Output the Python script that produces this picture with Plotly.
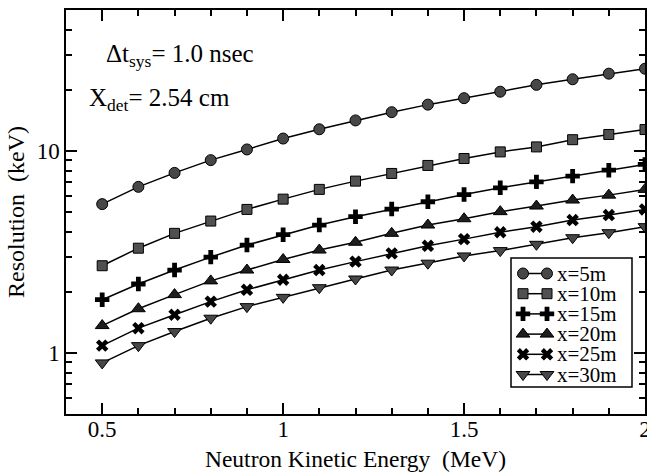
import plotly.graph_objects as go

energy = [0.5, 0.6, 0.7, 0.8, 0.9, 1.0, 1.1, 1.2, 1.3, 1.4, 1.5, 1.6, 1.7, 1.8, 1.9, 2.0]

res_5m = [5.47, 6.66, 7.81, 9.03, 10.2, 11.55, 12.84, 14.2, 15.6, 17.0, 18.3, 19.7, 21.3, 22.7, 24.2, 25.6]
res_10m = [2.71, 3.31, 3.92, 4.51, 5.15, 5.79, 6.47, 7.11, 7.76, 8.50, 9.20, 9.92, 10.5, 11.4, 12.1, 12.8]
res_15m = [1.84, 2.20, 2.58, 2.99, 3.43, 3.86, 4.31, 4.74, 5.17, 5.62, 6.10, 6.59, 7.05, 7.53, 8.05, 8.60]
res_20m = [1.37, 1.66, 1.95, 2.28, 2.58, 2.91, 3.24, 3.54, 3.92, 4.31, 4.63, 5.02, 5.35, 5.73, 6.06, 6.47]
res_25m = [1.09, 1.33, 1.55, 1.80, 2.06, 2.31, 2.58, 2.84, 3.12, 3.40, 3.67, 3.97, 4.23, 4.56, 4.83, 5.15]
res_30m = [0.895, 1.09, 1.28, 1.49, 1.70, 1.89, 2.11, 2.33, 2.58, 2.79, 3.03, 3.22, 3.46, 3.73, 3.95, 4.23]

series_names = ["x=5m", "x=10m", "x=15m", "x=20m", "x=25m", "x=30m"]
series_values = [res_5m, res_10m, res_15m, res_20m, res_25m, res_30m]

x_ticks = [0.5, 1, 1.5, 2]
x_tick_labels = ["0.5", "1", "1.5", "2"]
y_ticks = [1, 10]
y_tick_labels = ["1", "10"]

styles = [
    dict(symbol="circle", size=11, color="#474747", line=dict(color="black", width=1)),
    dict(symbol="square", size=10, color="#505050", line=dict(color="black", width=1)),
    dict(symbol="cross", size=12, color="black", line=dict(color="black", width=0)),
    dict(symbol="triangle-up", size=12, color="#1e1e1e", line=dict(color="black", width=1)),
    dict(symbol="x", size=11, color="black", line=dict(color="black", width=0)),
    dict(symbol="triangle-down", size=12, color="#474747", line=dict(color="black", width=1)),
]

FONT = "Liberation Serif"
W, H = 647, 475
L, R, T, B = 66, 2, 10, 61

fig = go.Figure()
for name, vals, st in zip(series_names, series_values, styles):
    fig.add_trace(go.Scatter(
        x=energy, y=vals, mode="lines+markers", name=name,
        line=dict(color="black", width=1.5),
        marker=st, showlegend=False, cliponaxis=False,
    ))

# custom legend drawn on a pixel-coordinate overlay axis
leg_left, leg_right, leg_top, leg_bot = 511, 632, 258, 387
row_y0, row_dy = 273.5, 20.2
key_x = [523, 547]
text_x = 556
for i, (name, st) in enumerate(zip(series_names, styles)):
    yy = row_y0 + i * row_dy
    fig.add_trace(go.Scatter(
        x=key_x, y=[yy, yy], xaxis="x2", yaxis="y2", mode="lines+markers",
        line=dict(color="black", width=1.5), marker=st, showlegend=False,
        hoverinfo="skip", cliponaxis=False,
    ))
    fig.add_annotation(x=text_x, y=yy, xref="x2", yref="y2", text=name,
                       showarrow=False, xanchor="left", yanchor="middle",
                       height=20, valign="middle", borderpad=0,
                       font=dict(family=FONT, size=21, color="black"))

fig.add_shape(type="rect", xref="x2", yref="y2", x0=leg_left, x1=leg_right,
              y0=leg_top, y1=leg_bot, line=dict(color="black", width=1.5),
              fillcolor="white", layer="below")

fig.add_annotation(x=104, y=55, xref="x2", yref="y2",
                   text="Δt<sub>sys</sub>= 1.0 nsec", showarrow=False,
                   xanchor="left", yanchor="middle",
                   font=dict(family=FONT, size=25, color="black"))
fig.add_annotation(x=87, y=99, xref="x2", yref="y2",
                   text="X<sub>det</sub>= 2.54 cm", showarrow=False,
                   xanchor="left", yanchor="middle",
                   font=dict(family=FONT, size=25, color="black"))

axis_common = dict(showline=True, linecolor="black", linewidth=1.5, mirror="allticks",
                   ticks="inside", tickcolor="black", tickwidth=1.5, showgrid=False,
                   zeroline=False, ticklabeloverflow="allow",
                   tickfont=dict(family=FONT, size=23, color="black"))

fig.update_layout(
    width=W, height=H,
    margin=dict(l=L, r=R, t=T, b=B, autoexpand=False),
    paper_bgcolor="white", plot_bgcolor="rgba(0,0,0,0)",
    showlegend=False,
    xaxis=dict(range=[0.4, 2.0], tickmode="array", tickvals=x_ticks, ticktext=x_tick_labels,
               ticklen=11, ticklabelstandoff=-6,
               minor=dict(tickmode="array", tickvals=[round(0.4 + 0.1 * k, 1) for k in range(17)],
                          ticks="inside", ticklen=6, tickcolor="black", tickwidth=1.5),
               title=dict(text="Neutron Kinetic Energy  (MeV)", standoff=9,
                          font=dict(family=FONT, size=23.5, color="black")),
               **axis_common),
    yaxis=dict(type="log", range=[-0.30103, 1.69897], tickmode="array",
               tickvals=y_ticks, ticktext=y_tick_labels, ticklen=11,
               minor=dict(tickmode="array",
                          tickvals=[0.6, 0.7, 0.8, 0.9, 2, 3, 4, 5, 6, 7, 8, 9, 20, 30, 40],
                          ticks="inside", ticklen=6, tickcolor="black", tickwidth=1.5),
               title=dict(text="Resolution  (keV)", standoff=5,
                          font=dict(family=FONT, size=24, color="black")),
               **axis_common),
    xaxis2=dict(overlaying="x", range=[L, W - R], visible=False, fixedrange=True),
    yaxis2=dict(overlaying="y", range=[H - B, T], visible=False, fixedrange=True),
)

fig.write_html("out.html")
